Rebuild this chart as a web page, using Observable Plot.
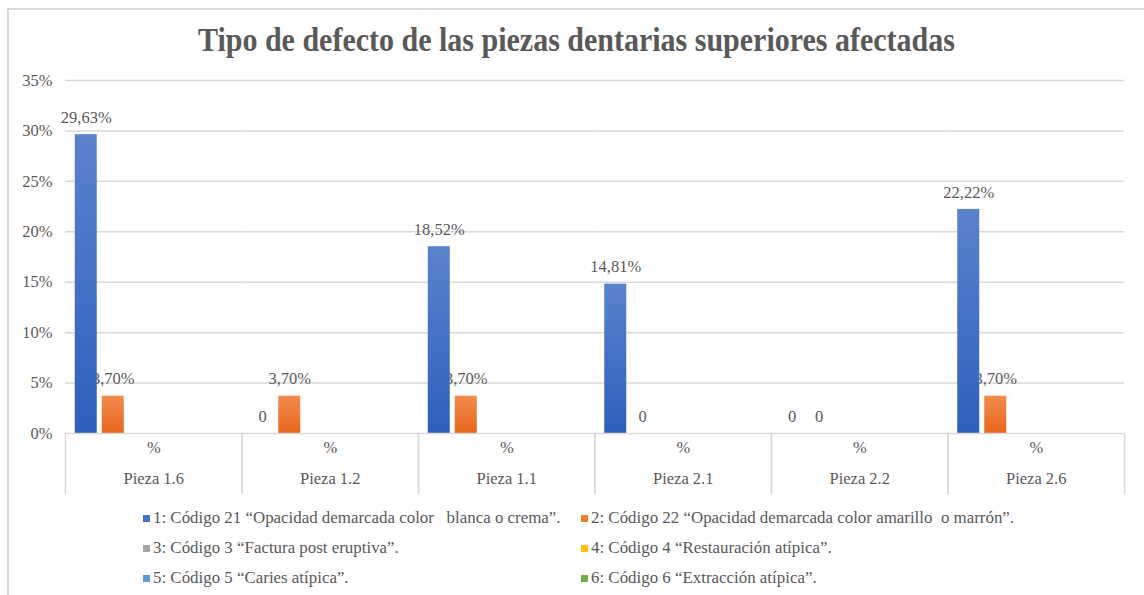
<!DOCTYPE html>
<html><head><meta charset="utf-8">
<script src="https://cdn.jsdelivr.net/npm/d3@7"></script>
<script src="https://cdn.jsdelivr.net/npm/@observablehq/plot@0.6"></script>
<style>
body{margin:0;background:#fff;font-family:"Liberation Serif","Times New Roman",serif;color:#595959;}
#wrap{position:relative;width:1144px;height:595px;overflow:hidden;}
#frame{position:absolute;left:7px;top:8px;width:1200px;height:700px;border-left:2px solid #d9d9d9;border-top:2px solid #d9d9d9;}
#title{position:absolute;top:18px;left:0;width:1144px;text-align:center;font-weight:bold;font-size:33px;line-height:44px;white-space:nowrap;}
#title span{display:inline-block;transform-origin:center;}
#chart{position:absolute;top:62px;left:0;}
#legend{position:absolute;top:503px;left:143px;display:grid;grid-template-columns:438px auto;grid-auto-rows:30px;font-size:16.9px;white-space:pre;}
#legend div{display:flex;align-items:center;}
#legend i{display:inline-block;width:7px;height:7px;margin-right:3px;}
</style>
</head><body>
<div id="wrap">
  <div id="frame"></div>
  <div id="title"><span>Tipo de defecto de las piezas dentarias superiores afectadas</span></div>
  <div id="chart"></div>
  <div id="legend"></div>
</div>
<script>
const piezas = ["Pieza 1.6", "Pieza 1.2", "Pieza 1.1", "Pieza 2.1", "Pieza 2.2", "Pieza 2.6"];
const subLabel = "%";
const series = [
  "1: Código 21 “Opacidad demarcada color   blanca o crema”.",
  "2: Código 22 “Opacidad demarcada color amarillo  o marrón”.",
  "3: Código 3 “Factura post eruptiva”.",
  "4: Código 4 “Restauración atípica”.",
  "5: Código 5 “Caries atípica”.",
  "6: Código 6 “Extracción atípica”."
];
const codigo21 = [29.63, 0, 18.52, 14.81, 0, 22.22];
const codigo22 = [3.70, 3.70, 3.70, 0, 0, 3.70];
const codigo3 = [0, 0, 0, 0, 0, 0];
const codigo4 = [0, 0, 0, 0, 0, 0];
const codigo5 = [0, 0, 0, 0, 0, 0];
const codigo6 = [0, 0, 0, 0, 0, 0];
const labelledSeries = [0, 1];
const yTicks = [0, 5, 10, 15, 20, 25, 30, 35];
const colors = ["#4472c4", "#ed7d31", "#a5a5a5", "#ffc000", "#5b9bd5", "#70ad47"];
const gradTop = ["#5b82cb", "#f28c50", "#b0b0b0", "#ffc82a", "#6aa6dc", "#7fb858"];
const gradBottom = ["#2e5fbe", "#e9661c", "#999999", "#f5b800", "#4a8fcf", "#62a23c"];

const values = [codigo21, codigo22, codigo3, codigo4, codigo5, codigo6];
const data = [];
values.forEach((arr, si) => arr.forEach((v, pi) => data.push({pieza: piezas[pi], serie: series[si], value: v, si})));
const labels = data.filter(d => labelledSeries.includes(d.si));
const fmt = v => v === 0 ? "0" : v.toFixed(2).replace(".", ",") + "%";

const plot = Plot.plot({
  width: 1144,
  height: 440,
  marginTop: 18,
  marginBottom: 69,
  marginLeft: 65,
  marginRight: 20,
  style: {fontFamily: "'Liberation Serif', 'Times New Roman', serif", fontSize: "16.5px", color: "#595959", background: "transparent", overflow: "visible"},
  fx: {domain: piezas, padding: 0, round: false, axis: null},
  x: {domain: series, paddingInner: 0.185, paddingOuter: 0.361, round: false, axis: null},
  y: {domain: [0, 35], ticks: yTicks, tickFormat: d => d + "%", tickSize: 0, tickPadding: 13, label: null},
  color: {type: "ordinal", domain: series, range: series.map((s, i) => `url(#grad${i})`)},
  marks: [
    Plot.gridY(yTicks.filter(t => t > 0), {stroke: "#d9d9d9", strokeOpacity: 1, strokeWidth: 1.5}),
    Plot.text(labels, {fx: "pieza", x: "serie", y: "value", text: d => fmt(d.value), dy: -17, fill: "#595959"}),
    Plot.barY(data, {fx: "pieza", x: "serie", y: "value", fill: "serie", filter: d => d.value > 0, style: "filter:url(#shadow)"}),
    Plot.ruleY([0], {stroke: "#d9d9d9", strokeWidth: 1.5}),
    Plot.frame({anchor: "left", stroke: "#d9d9d9", strokeWidth: 1.5, insetTop: 353, insetBottom: -60}),
    Plot.frame({anchor: "right", stroke: "#d9d9d9", strokeWidth: 1.5, insetTop: 353, insetBottom: -60}),
    Plot.text(piezas, {fx: d => d, frameAnchor: "bottom", dy: 19, text: () => subLabel, fill: "#595959"}),
    Plot.text(piezas, {fx: d => d, frameAnchor: "bottom", dy: 50, text: d => d, fill: "#595959"})
  ]
});

// gradients and shadow for bar fills
const ns = "http://www.w3.org/2000/svg";
const defs = document.createElementNS(ns, "defs");
series.forEach((s, i) => {
  const g = document.createElementNS(ns, "linearGradient");
  g.setAttribute("id", `grad${i}`);
  g.setAttribute("x1", "0"); g.setAttribute("y1", "0"); g.setAttribute("x2", "0"); g.setAttribute("y2", "1");
  [[0, gradTop[i]], [1, gradBottom[i]]].forEach(([o, c]) => {
    const st = document.createElementNS(ns, "stop");
    st.setAttribute("offset", o); st.setAttribute("stop-color", c);
    g.appendChild(st);
  });
  defs.appendChild(g);
});
const f = document.createElementNS(ns, "filter");
f.setAttribute("id", "shadow");
f.setAttribute("x", "-20%"); f.setAttribute("y", "-5%"); f.setAttribute("width", "150%"); f.setAttribute("height", "110%");
const ds = document.createElementNS(ns, "feDropShadow");
ds.setAttribute("dx", "1"); ds.setAttribute("dy", "0"); ds.setAttribute("stdDeviation", "1");
ds.setAttribute("flood-color", "#000"); ds.setAttribute("flood-opacity", "0.25");
f.appendChild(ds);
defs.appendChild(f);
plot.insertBefore(defs, plot.firstChild);
document.getElementById("chart").appendChild(plot);

// legend
const legend = document.getElementById("legend");
series.forEach((s, i) => {
  const item = document.createElement("div");
  const sw = document.createElement("i");
  sw.style.background = colors[i];
  item.appendChild(sw);
  item.appendChild(document.createTextNode(s));
  legend.appendChild(item);
});

// fit title width
const span = document.querySelector("#title span");
const w = span.getBoundingClientRect().width;
span.style.transform = `translateX(4px) scaleX(${757 / w})`;
</script>
</body></html>
